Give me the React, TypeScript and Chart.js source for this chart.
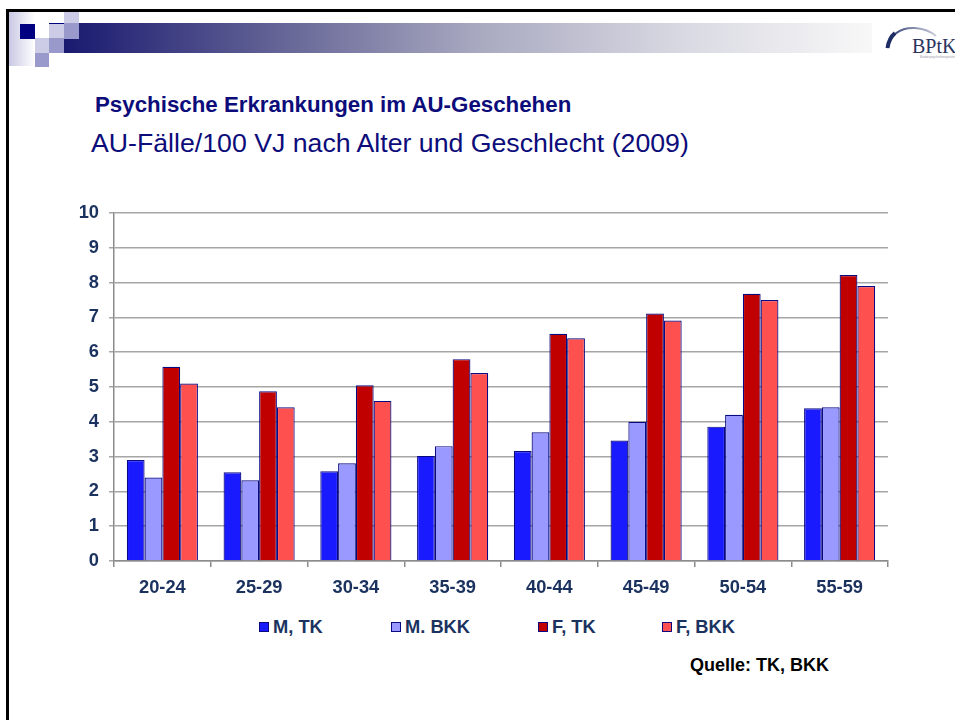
import React, { useEffect, useRef } from 'react';
import { Chart, registerables } from 'chart.js';

Chart.register(...registerables);

// ---- data ----
const categories = ['20-24', '25-29', '30-34', '35-39', '40-44', '45-49', '50-54', '55-59'];
const seriesLabels = ['M, TK', 'M. BKK', 'F, TK', 'F, BKK'];
const mTK = [2.9, 2.55, 2.58, 3.02, 3.16, 3.46, 3.86, 4.39];
const mBKK = [2.4, 2.32, 2.81, 3.3, 3.7, 4.0, 4.2, 4.42];
const fTK = [5.58, 4.88, 5.05, 5.8, 6.53, 7.11, 7.68, 8.22];
const fBKK = [5.1, 4.42, 4.6, 5.4, 6.4, 6.91, 7.5, 7.9];
const yMin = 0;
const yMax = 10;
const yStep = 1;

const titleText = 'Psychische Erkrankungen im AU-Geschehen';
const subtitleText = 'AU-Fälle/100 VJ nach Alter und Geschlecht (2009)';
const sourceText = 'Quelle: TK, BKK';

// ---- styles ----
const FONT = '"Liberation Sans", Arial, Helvetica, sans-serif';
const LABEL_COLOR = '#1b325f';
const TITLE_COLOR = '#0c0c7a';
const barColors = ['#1a1aff', '#9999ff', '#c00000', '#ff5050'];
const barBorder = '#0a0a80';

const seriesData = [mTK, mBKK, fTK, fBKK];

function Square({ x, y, w, h, bg }: { x: number; y: number; w: number; h: number; bg: string }) {
  return <div style={{ position: 'absolute', left: x, top: y, width: w, height: h, background: bg }} />;
}

export default function App() {
  const canvasRef = useRef<HTMLCanvasElement | null>(null);

  useEffect(() => {
    document.body.style.margin = '0';
    const canvas = canvasRef.current;
    if (!canvas) return;
    const tickFont = { family: FONT, size: 18.3, weight: 'bold' as const };
    const chart = new Chart(canvas, {
      type: 'bar',
      data: {
        labels: categories,
        datasets: seriesLabels.map((label, i) => ({
          label,
          data: seriesData[i],
          backgroundColor: barColors[i],
          borderColor: barBorder,
          borderWidth: 1.2,
          categoryPercentage: 0.735,
          barPercentage: 1,
        })),
      },
      options: {
        animation: false,
        responsive: false,
        layout: { padding: { top: 23, right: 16, bottom: 0, left: 0 } },
        plugins: {
          legend: { display: false },
          tooltip: { enabled: false },
        },
        scales: {
          x: {
            grid: {
              offset: true,
              drawOnChartArea: false,
              tickLength: 6,
              color: '#8c8c8c',
              lineWidth: 1.5,
            },
            border: { color: '#8c8c8c', width: 1.5 },
            ticks: { font: tickFont, color: LABEL_COLOR, padding: 10, maxRotation: 0 },
            afterFit: (s: any) => {
              s.height = 40;
            },
          },
          y: {
            min: yMin,
            max: yMax,
            ticks: { stepSize: yStep, font: tickFont, color: LABEL_COLOR, padding: 10 },
            grid: { color: '#a6a6a6', lineWidth: 1.5, tickLength: 5 },
            border: { color: '#8c8c8c', width: 1.5 },
            afterFit: (s: any) => {
              s.width = 70;
            },
          },
        },
      },
    });
    return () => chart.destroy();
  }, []);

  const legendPos = [259, 391, 538, 662];

  return (
    <div
      style={{
        position: 'absolute',
        left: 0,
        top: 0,
        width: 955,
        height: 720,
        overflow: 'hidden',
        background: '#ffffff',
        fontFamily: FONT,
      }}
    >
      {/* slide frame */}
      <div style={{ position: 'absolute', left: 6, top: 9, width: 949, height: 3, background: '#000' }} />
      <div style={{ position: 'absolute', left: 6, top: 9, width: 3, height: 711, background: '#000' }} />

      {/* decoration */}
      <div
        style={{
          position: 'absolute',
          left: 9,
          top: 12,
          width: 26,
          height: 54,
          background: 'linear-gradient(to right, #c8c8e4, #ffffff)',
        }}
      />
      <div
        style={{
          position: 'absolute',
          left: 64,
          top: 23,
          width: 808,
          height: 30,
          background:
            'linear-gradient(to right, #191970 0%, #6b6b9a 29%, #a8a8c0 51%, #d8d8e2 76%, #f8f8f8 100%)',
        }}
      />
      <Square x={64} y={12} w={15} h={11} bg="#ccccE6" />
      <Square x={20} y={24} w={15} h={15} bg="#000080" />
      <Square x={49} y={24} w={15} h={15} bg="#ccccE6" />
      <Square x={49} y={23} w={15} h={1} bg="#000080" />
      <Square x={64} y={23} w={15} h={16} bg="#9999cc" />
      <Square x={35} y={38} w={14} h={15} bg="#ccccE6" />
      <Square x={49} y={38} w={15} h={15} bg="#9999cc" />
      <Square x={35} y={53} w={14} h={14} bg="#9999cc" />

      {/* logo */}
      <svg style={{ position: 'absolute', left: 880, top: 20 }} width={75} height={45}>
        <defs>
          <linearGradient id="arcg" x1="0" y1="0" x2="1" y2="0">
            <stop offset="0" stopColor="#1e2c66" />
            <stop offset="0.5" stopColor="#7d86a8" />
            <stop offset="1" stopColor="#c7cbda" />
          </linearGradient>
        </defs>
        <path d="M7 28 Q 13 7 35 8 Q 48 9 56 16" fill="none" stroke="url(#arcg)" strokeWidth={2} />
        <path d="M7.5 28 Q 9 18 15 13" fill="none" stroke="#1e2c66" strokeWidth={4} />
        <text x={32} y={33} fontFamily='"Liberation Serif", "Times New Roman", serif' fontSize={20} fill="#2b3560">
          BPtK
        </text>
        <text x={40} y={38} fontFamily={FONT} fontSize={3} fill="#9a9aaa">
          Bundespsychotherapeutenkammer
        </text>
      </svg>

      {/* title */}
      <div
        style={{
          position: 'absolute',
          left: 95,
          top: 94,
          fontSize: 22.3,
          lineHeight: 1,
          fontWeight: 'bold',
          color: TITLE_COLOR,
          whiteSpace: 'nowrap',
        }}
      >
        {titleText}
      </div>
      <div
        style={{
          position: 'absolute',
          left: 91,
          top: 130,
          fontSize: 26.7,
          lineHeight: 1,
          color: TITLE_COLOR,
          whiteSpace: 'nowrap',
        }}
      >
        {subtitleText}
      </div>

      {/* chart */}
      <div style={{ position: 'absolute', left: 44, top: 190, width: 860, height: 411 }}>
        <canvas ref={canvasRef} width={860} height={411} style={{ display: 'block' }} />
      </div>

      {/* legend */}
      {seriesLabels.map((label, i) => (
        <div
          key={label}
          style={{
            position: 'absolute',
            left: legendPos[i],
            top: 618,
            height: 18,
            display: 'flex',
            alignItems: 'center',
            whiteSpace: 'nowrap',
          }}
        >
          <div
            style={{
              width: 8,
              height: 8,
              background: barColors[i],
              border: `1px solid ${barBorder}`,
              marginRight: 4,
            }}
          />
          <span style={{ fontSize: 18.3, lineHeight: 1, fontWeight: 'bold', color: LABEL_COLOR }}>{label}</span>
        </div>
      ))}

      {/* source */}
      <div
        style={{
          position: 'absolute',
          right: 955 - 829,
          top: 656,
          fontSize: 18,
          lineHeight: 1,
          fontWeight: 'bold',
          color: '#000',
          whiteSpace: 'nowrap',
        }}
      >
        {sourceText}
      </div>
    </div>
  );
}
